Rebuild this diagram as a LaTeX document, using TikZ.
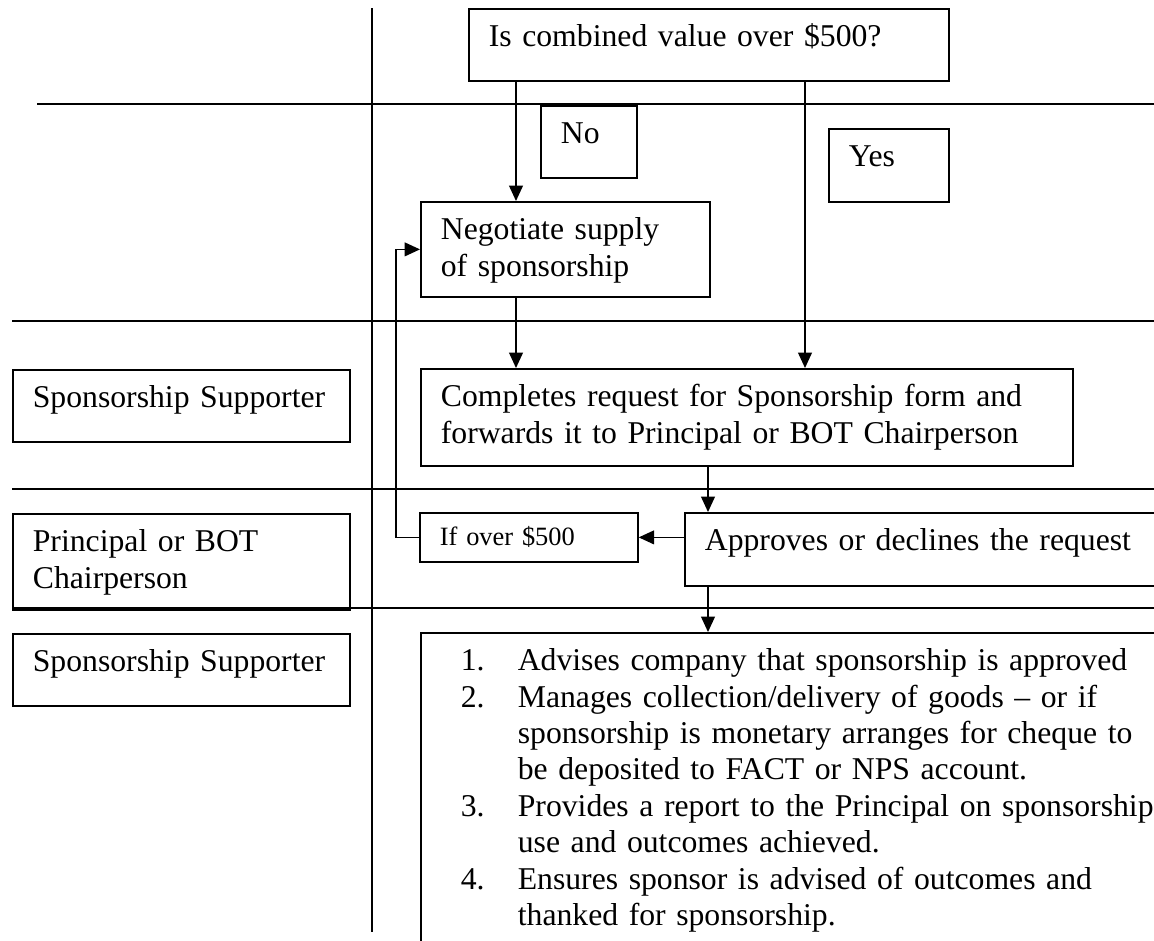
\documentclass[tikz,border=0pt]{standalone}
\usepackage{fontspec}
\setmainfont{Liberation Serif}
\usetikzlibrary{arrows.meta}

\begin{document}
\begin{tikzpicture}[x=0.3785pt, y=-0.3785pt,
      every node/.style={font=\fontsize{12pt}{13.8pt}\selectfont},
      box/.style={draw, line width=0.65pt, anchor=north west, align=left,
        inner xsep=7.57pt, inner ysep=0pt, text height=14.27pt},
      lab/.style={font=\fontsize{10pt}{11.5pt}\selectfont, text height=12.49pt},
      lane/.style={line width=0.75pt},
      flow/.style={line width=0.6pt, -{Triangle[length=5.8pt,width=5.2pt]}}
      ]
    \useasboundingbox (0,0) rectangle (1154,940);
    \clip (0,0) rectangle (1154,940);

    % lanes
    \draw [lane] (372,8) -- (372,932);
    \draw [lane] (37,104) -- (1154,104);
    \draw [lane] (12,321) -- (1154,321);
    \draw [lane] (12,489) -- (1154,489);
    \draw [lane] (12,608) -- (1154,608);

    \node (q) [box, text width=166.54pt, text depth=12.98pt] at (468,8)
      {Is combined value over \$500?};
    \node (no) [box, text width=21.2pt, text depth=12.98pt] at (540,105) {No};
    \node (yes) [box, text width=30.28pt, text depth=13.36pt] at (828,128) {Yes};

    \node (neg) [box, text width=94.25pt, text depth=21.69pt] at (420,201)
      {Negotiate supply\\of sponsorship};

    \node (ss1) [box, text width=112.41pt, text depth=12.98pt] at (12,369)
      {Sponsorship Supporter};
    \node (comp) [box, text width=231.64pt, text depth=22.45pt] at (420,368)
      {Completes request for Sponsorship form and\\
       forwards it to Principal or BOT Chairperson};

    \node (prin) [box, text width=112.41pt, text depth=22.07pt] at (12,513)
      {Principal or BOT\\Chairperson};
    \node (ifo) [box, lab, text width=67.37pt, text depth=6.06pt] at (419,512)
      {If over \$500};
    \node (appr) [box, text width=196.82pt, text depth=13.36pt] at (684,512)
      {Approves or declines the request};

    \node (ss2) [box, text width=112.41pt, text depth=12.98pt] at (12,633)
      {Sponsorship Supporter};
    \node (fin) [box, text width=287.66pt, text depth=137.13pt] at (420,632)
      {\begin{tabular}[t]{@{\hspace{7.57pt}}p{21.57pt}@{}l@{}}
        1. & Advises company that sponsorship is approved\\
        2. & Manages collection/delivery of goods -- or if\\
           & sponsorship is monetary arranges for cheque to\\
           & be deposited to FACT or NPS account.\\
        3. & Provides a report to the Principal on sponsorship\\
           & use and outcomes achieved.\\
        4. & Ensures sponsor is advised of outcomes and\\
           & thanked for sponsorship.
      \end{tabular}};

    \coordinate (nox) at (516,0);
    \coordinate (yesx) at (805,0);
    \coordinate (apx) at (708,0);
    \coordinate (fbx) at (396,0);

    \draw [flow] (nox |- q.south) -- (nox |- neg.north);
    \draw [flow] (yesx |- q.south) -- (yesx |- comp.north);
    \draw [flow] (nox |- neg.south) -- (nox |- comp.north);
    \draw [flow] (apx |- comp.south) -- (apx |- appr.north);
    \draw [flow] (appr.west |- ifo.east) -- (ifo.east);
    \draw [flow] (ifo.west) -| (fbx |- neg.west) -- (neg.west);
    \draw [flow] (apx |- appr.south) -- (apx |- fin.north);
  \end{tikzpicture}
\end{document}
